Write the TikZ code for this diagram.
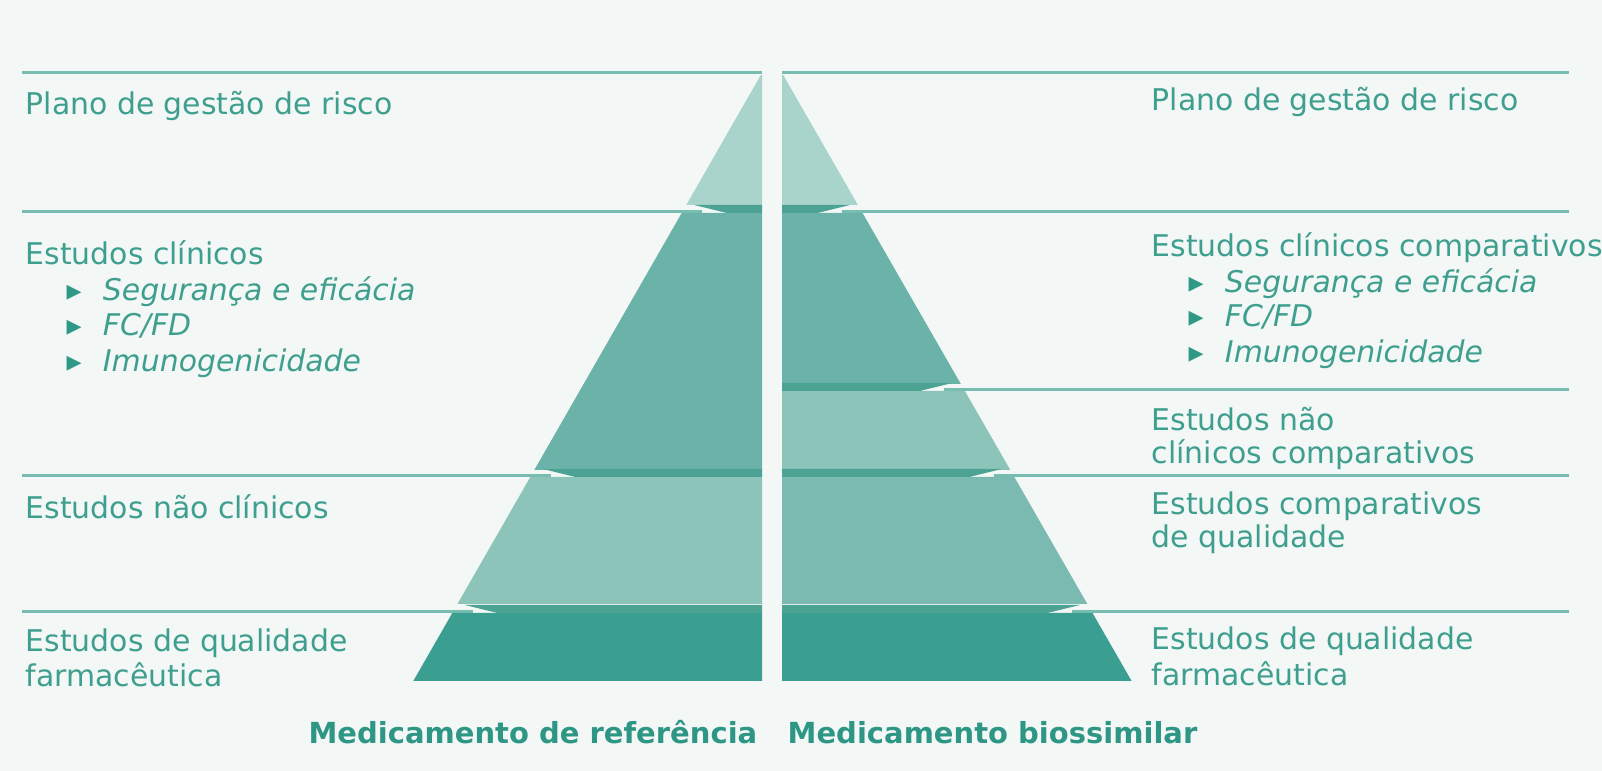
\documentclass[tikz,border=0pt]{standalone}
\usepackage{fontspec}
\setmainfont{DejaVu Sans}
\usepackage{tikz}
\usetikzlibrary{positioning}

\definecolor{bgc}{HTML}{F3F7F6}
\definecolor{rulec}{HTML}{78BDB1}
\definecolor{txtc}{HTML}{3F9F8F}
\definecolor{titc}{HTML}{2E9684}
\definecolor{bulc}{HTML}{2F9886}
\definecolor{riskc}{HTML}{A9D4CB}
\definecolor{clinc}{HTML}{6BB3A8}
\definecolor{nonc}{HTML}{8CC4BA}
\definecolor{cmpc}{HTML}{7BBAB0}
\definecolor{qualc}{HTML}{3A9F90}
\definecolor{shc}{HTML}{4CA393}

% edges of the two half pyramids
\newcommand{\xl}[1]{762-0.5735*(#1-73)}
\newcommand{\xr}[1]{782+0.575*(#1-73)}
\newcommand{\blt}{\makebox[10.3pt][l]{\color{bulc}▸}}

\begin{document}
\begin{tikzpicture}[
    x=0.01cm, y=-0.01cm,
    lbl/.style={anchor=base west, inner sep=0pt, text=txtc, font=\fontsize{8.5}{10.2}\selectfont},
    sub/.style={lbl, font=\fontsize{8.5}{10.2}\selectfont\itshape},
    ttl/.style={inner sep=0pt, text=titc, font=\fontsize{8.25}{10}\selectfont\bfseries},
    rule/.style={draw=rulec, line width=0.85pt}
]
\useasboundingbox (0,0) rectangle (1602,771);
\fill[bgc] (0,0) rectangle (1602,771);

% rules
\draw[rule] (22,73) -- (762,73);
\draw[rule] (782,73) -- (1569,73);
\foreach \L in {212,476,612}
    \draw[rule] (22,\L) -- ({\xl{\L}+20},\L);
\foreach \L in {212,390,476,612}
    \draw[rule] ({\xr{\L}-20},\L) -- (1569,\L);

% left pyramid
\foreach \yt/\yb/\col in {75/205/riskc, 213/470/clinc, 477/604/nonc, 613/681/qualc}
    \fill[\col] ({\xl{\yt}},\yt) -- (762,\yt) -- (762,\yb) -- ({\xl{\yb}},\yb) -- cycle;
\foreach \L in {213,477,613}
    \fill[shc] ({\xl{\L-8}+8},{\L-8}) -- (762,{\L-8}) -- (762,\L) -- ({\xl{\L}+45},\L) -- cycle;

% right pyramid
\foreach \yt/\yb/\col in {75/205/riskc, 213/384/clinc, 391/470/nonc, 477/604/cmpc, 613/681/qualc}
    \fill[\col] (782,\yt) -- ({\xr{\yt}},\yt) -- ({\xr{\yb}},\yb) -- (782,\yb) -- cycle;
\foreach \L in {213,391,477,613}
    \fill[shc] (782,{\L-8}) -- ({\xr{\L-8}-8},{\L-8}) -- ({\xr{\L}-45},\L) -- (782,\L) -- cycle;

% left labels
\node[lbl] (lrisk) at (25,115) {Plano de gestão de risco};
\node[lbl] (lclin) at (25,265) {Estudos clínicos};
\node[sub] (lsafe) at (66,301) {\blt Segurança e eficácia};
\node[sub] (lpk) at (66,336) {\blt FC/FD};
\node[sub] (limm) at (66,372) {\blt Imunogenicidade};
\node[lbl] (lnon) at (25,519) {Estudos não clínicos};
\node[lbl] (lqual) at (25,652) {Estudos de qualidade};
\node[lbl] (lqual2) at (25,687) {farmacêutica};

% right labels
\node[lbl] (rrisk) at (1151,111) {Plano de gestão de risco};
\node[lbl] (rclin) at (1151,257) {Estudos clínicos comparativos};
\node[sub] (rsafe) at (1188,293) {\blt Segurança e eficácia};
\node[sub] (rpk) at (1188,327) {\blt FC/FD};
\node[sub] (rimm) at (1188,363) {\blt Imunogenicidade};
\node[lbl] (rnon) at (1151,431) {Estudos não};
\node[lbl] (rnon2) at (1151,464) {clínicos comparativos};
\node[lbl] (rcmp) at (1151,515) {Estudos comparativos};
\node[lbl] (rcmp2) at (1151,548) {de qualidade};
\node[lbl] (rqual) at (1151,650) {Estudos de qualidade};
\node[lbl] (rqual2) at (1151,686) {farmacêutica};

% titles
\node[ttl, anchor=base east] (lttl) at (758,744) {Medicamento de referência};
\node[ttl, anchor=base west] (rttl) at (787,744) {Medicamento biossimilar};
\end{tikzpicture}
\end{document}
